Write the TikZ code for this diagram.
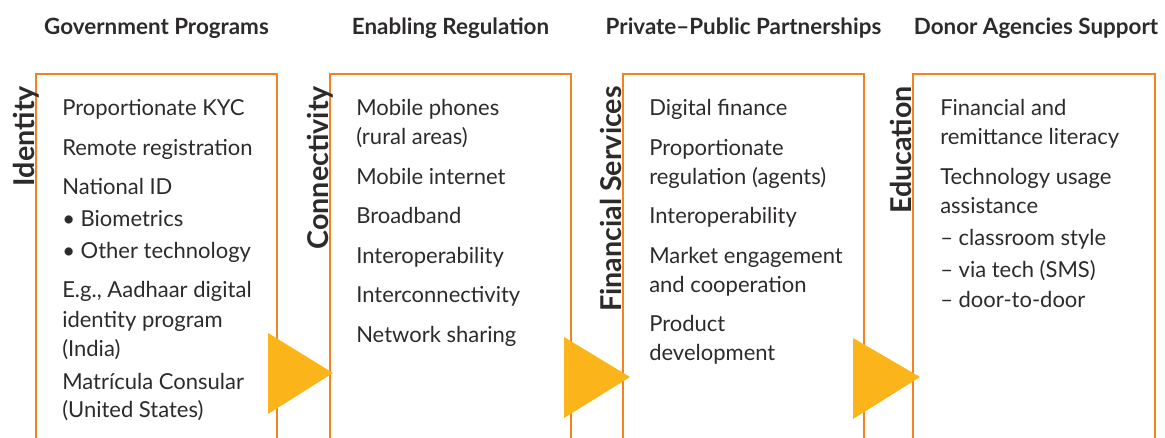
\documentclass[tikz,border=0pt]{standalone}
\usepackage{fontspec}
\setmainfont{Lato}
\usetikzlibrary{positioning}
\definecolor{frameorange}{RGB}{245,130,32}
\definecolor{arrowamber}{RGB}{251,180,25}
\definecolor{textgray}{RGB}{45,42,43}
\tikzset{
  frame/.style={draw=frameorange, line width=1.7pt},
  head/.style={font=\bfseries\fontsize{16.8}{19}\selectfont, text=textgray, anchor=base, inner sep=0pt},
  side/.style={font=\bfseries\fontsize{21.5}{24}\selectfont, text=textgray, rotate=90, anchor=base east, inner sep=0pt},
  item/.style={font=\fontsize{16.5}{20}\selectfont, text=textgray, anchor=base west, inner sep=0pt},
  pointer/.style={fill=arrowamber}
}

\begin{document}
\begin{tikzpicture}[x=0.75pt, y=-0.75pt]
  \useasboundingbox (0,0) rectangle (1165,438);

  % Column frames, open at the bottom
  \foreach \l/\r in {36/277, 330/571, 623/864, 913/1155} {
    \draw[frame] (\l,445) -- (\l,74) -- (\r,74) -- (\r,445);
  }

  % Column headings
  \node[head] (hgov) at (156.5,35) {Government Programs};
  \node[head] (hreg) at (450.5,35) {Enabling Regulation};
  \node[head] (hppp) at (743.5,35) {Private–Public Partnerships};
  \node[head] (hdonor) at (1036,35) {Donor Agencies Support};

  % Side labels
  \node[side] (identity) at (34,86) {Identity};
  \node[side] (connect) at (328,86) {Connectivity};
  \node[side] (finserv) at (621,86) {Financial Services};
  \node[side] (educ) at (911,86) {Education};

  % Column contents
  \foreach \y/\t [count=\i] in {116/{Proportionate KYC}, 156/{Remote registration},
      195/{National ID}, 227/{• Biometrics}, 259/{• Other technology},
      298/{E.g., Aadhaar digital}, 328/{identity program}, 357/{(India)},
      390/{Matrícula Consular}, 418/{(United States)}} {
    \node[item] (id-\i) at (62,\y) {\t};
  }
  \foreach \y/\t [count=\i] in {116/{Mobile phones}, 145/{(rural areas)},
      185/{Mobile internet}, 224/{Broadband}, 264/{Interoperability},
      303/{Interconnectivity}, 343/{Network sharing}} {
    \node[item] (con-\i) at (356,\y) {\t};
  }
  \foreach \y/\t [count=\i] in {116/{Digital finance}, 156/{Proportionate},
      185/{regulation (agents)}, 224/{Interoperability}, 264/{Market engagement},
      293/{and cooperation}, 332/{Product}, 361/{development}} {
    \node[item] (fin-\i) at (649,\y) {\t};
  }
  \foreach \y/\t [count=\i] in {116/{Financial and}, 145/{remittance literacy},
      185/{Technology usage}, 214/{assistance}, 246/{– classroom style},
      278/{– via tech (SMS)}, 308/{– door-to-door}} {
    \node[item] (edu-\i) at (940,\y) {\t};
  }

  % Pointers between columns
  \fill[pointer] (268,333) -- (268,414) -- (333,373) -- cycle;
  \fill[pointer] (564,337) -- (564,418) -- (630,377) -- cycle;
  \fill[pointer] (853,338) -- (853,419) -- (920,377) -- cycle;
\end{tikzpicture}
\end{document}
